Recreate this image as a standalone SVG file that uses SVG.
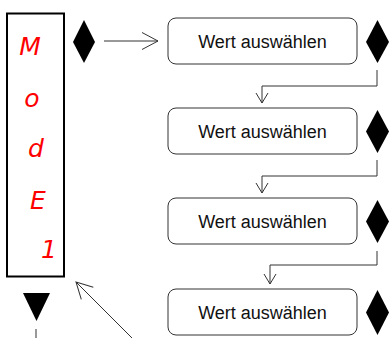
<svg xmlns="http://www.w3.org/2000/svg" width="390" height="338" viewBox="0 0 390 338">
<style>
.box{fill:#fff;stroke:#333;stroke-width:1}
.lbl{font-family:"Liberation Sans",Arial,sans-serif;font-size:18px;fill:#111;text-anchor:middle}
.seg{font-family:"DejaVu Sans","Liberation Sans",Arial,sans-serif;font-size:25px;font-weight:200;font-style:italic;fill:#ff0000;text-anchor:middle}
.dia{fill:#000}
.con{fill:none;stroke:#333;stroke-width:1}
</style>
<defs>
<marker id="big" markerUnits="userSpaceOnUse" markerWidth="20" markerHeight="20" refX="0" refY="0" viewBox="-18 -10 20 20" orient="auto" overflow="visible">
<path d="M-16,-8.5 L0,0 L-16,8.5" fill="none" stroke="#333" stroke-width="1"/>
</marker>
<marker id="small" markerUnits="userSpaceOnUse" markerWidth="14" markerHeight="14" refX="0" refY="0" viewBox="-12 -7 14 14" orient="auto" overflow="visible">
<path d="M-10,-6 L0,0 L-10,6" fill="none" stroke="#333" stroke-width="1"/>
</marker>
</defs>
<g id="display">
<rect x="7" y="13.5" width="57" height="263" fill="#fff" stroke="#000" stroke-width="2"/>
<text class="seg" x="30" y="55">M</text>
<text class="seg" x="32" y="107">o</text>
<text class="seg" x="36" y="157">d</text>
<text class="seg" x="38" y="209">E</text>
<text class="seg" x="49" y="258">1</text>
</g>
<g id="key-left"><polygon class="dia" points="84,20 95,42 84,63 73,42"/></g>
<g id="key-down"><polygon class="dia" points="23,293 50,293 36.5,321"/><line x1="36" y1="329" x2="36" y2="338" stroke="#333" stroke-width="1"/></g>
<g id="node1"><rect class="box" x="168" y="18" width="189" height="46" rx="8"/><text class="lbl" x="262.5" y="47.5">Wert auswählen</text></g>
<g id="key1"><polygon class="dia" points="377.5,20 389,42 377.5,63 366,42"/></g>
<g id="node2"><rect class="box" x="168" y="108" width="189" height="46" rx="8"/><text class="lbl" x="262.5" y="137.5">Wert auswählen</text></g>
<g id="key2"><polygon class="dia" points="377.5,110 389,131.5 377.5,153 366,131.5"/></g>
<g id="node3"><rect class="box" x="168" y="198" width="189" height="46" rx="8"/><text class="lbl" x="262.5" y="227.5">Wert auswählen</text></g>
<g id="key3"><polygon class="dia" points="377.5,200 389,221.5 377.5,243 366,221.5"/></g>
<g id="node4"><rect class="box" x="168" y="289" width="189" height="46" rx="8"/><text class="lbl" x="262.5" y="318.5">Wert auswählen</text></g>
<g id="key4"><polygon class="dia" points="377.5,290 389,312.5 377.5,335 366,312.5"/></g>
<g id="connectors">
<path class="con" d="M104,41 H158" marker-end="url(#big)"/>
<path class="con" d="M377,70 V86 H262 V103" marker-end="url(#small)"/>
<path class="con" d="M377,160 V176 H262 V193" marker-end="url(#small)"/>
<path class="con" d="M377,251 V265 H270 V284" marker-end="url(#small)"/>
<path class="con" d="M132,338 L76,282" marker-end="url(#big)"/>
</g>
</svg>
